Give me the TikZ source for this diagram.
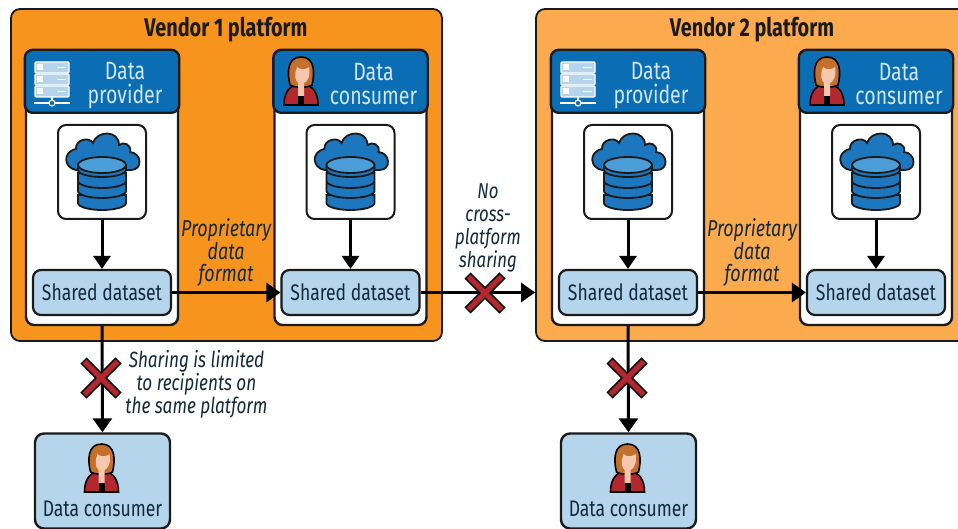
\documentclass[tikz,border=0pt]{standalone}
\usepackage{fontspec}
\setmainfont[FakeStretch=0.78]{Fira Sans}
\usetikzlibrary{arrows.meta}
\definecolor{orA}{HTML}{F7941D}
\definecolor{orB}{HTML}{FBAA4D}
\definecolor{hdr}{HTML}{0B6DB3}
\definecolor{lblue}{HTML}{B4D5EC}
\definecolor{ink}{HTML}{1A1A1A}
\definecolor{txt}{HTML}{14283C}
\definecolor{hdrtxt}{HTML}{CFE7F7}
\definecolor{redx}{HTML}{B3282F}
\definecolor{dbb}{HTML}{1C77BE}
\definecolor{dbl}{HTML}{4C9ED8}
\definecolor{hair}{HTML}{C46F2C}
\definecolor{skin}{HTML}{F4C7AE}
\tikzset{
  x=1pt,y=-1pt,
  platform/.style={draw=ink,line width=1.8pt,rounded corners=9pt,minimum height=332pt,inner sep=0pt},
  plattitle/.style={font=\fontsize{25.5}{28}\selectfont\bfseries,text=ink,inner sep=0pt},
  panelbox/.style={draw=ink,fill=white,line width=2.4pt,rounded corners=8pt,minimum width=152pt,minimum height=274pt,inner sep=0pt},
  headfill/.style={draw=ink,fill=hdr,line width=2.4pt},
  headtext/.style={font=\fontsize{25}{24.5}\selectfont,text=hdrtxt,align=center,inner sep=0pt},
  cloudbox/.style={draw=ink,fill=white,line width=2pt,rounded corners=8pt,minimum width=88pt,minimum height=94pt,inner sep=0pt},
  sharedbox/.style={draw=ink,fill=lblue,line width=2.2pt,rounded corners=8pt,minimum width=138pt,minimum height=45pt,inner sep=0pt,font=\fontsize{22.5}{24}\selectfont,text=txt},
  dcbox/.style={draw=ink,fill=lblue,line width=2.4pt,rounded corners=9pt,minimum width=135pt,minimum height=95pt,inner sep=0pt},
  dctext/.style={font=\fontsize{22.5}{24}\selectfont,text=txt,inner sep=0pt},
  note/.style={font=\fontsize{21.5}{23}\selectfont\itshape,text=txt,align=center,inner sep=0pt},
  notesame/.style={font=\fontsize{22}{23}\selectfont\itshape,text=txt,align=center,inner sep=0pt},
  notewide/.style={font=\fontsize{23}{22}\selectfont\itshape,text=txt,align=center,inner sep=0pt},
  conn/.style={draw=black,line width=3pt,-{Triangle[length=14pt,width=19pt]}},
  connsm/.style={draw=black,line width=3pt,-{Triangle[length=13pt,width=17pt]}},
  cloudicon/.pic={
    \path[draw=ink,line width=1.8pt,fill=dbb]
      (-26,-2) .. controls (-38,-4) and (-40,-20) .. (-26,-23)
      .. controls (-27,-32) and (-13,-36) .. (-9,-29)
      .. controls (-5,-42) and (17,-42) .. (17,-27)
      .. controls (22,-31) and (30,-27) .. (28,-20)
      .. controls (40,-19) and (41,-2) .. (29,-2) -- cycle;
    \foreach \yy in {31,19,9}{
      \path[draw=ink,line width=1.8pt,fill=dbb]
        (-24,\yy-8) -- (-24,\yy) arc[start angle=180,end angle=0,x radius=24,y radius=7] -- (24,\yy-8) -- cycle;
    }
    \path[draw=ink,line width=1.8pt,fill=dbb] (-24,-7) -- (-24,-2) arc[start angle=180,end angle=0,x radius=24,y radius=7] -- (24,-7) -- cycle;
    \path[draw=ink,line width=1.8pt,fill=dbl] (0,-7) ellipse[x radius=24,y radius=8];
  },
  servericon/.pic={
    \foreach \yy in {-21,-9,3}{
      \path[draw=white,line width=1.2pt,fill=lblue,rounded corners=1pt] (-17,\yy) rectangle (17,\yy+11);
      \path[fill=white] (-15,\yy+2.5) rectangle (-9,\yy+8.5);
      \path[draw=white,line width=1.2pt] (5,\yy+5.5) -- (14,\yy+5.5);
    }
    \path[draw=white,line width=1.6pt] (0,14) -- (0,20);
    \path[draw=white,line width=2.4pt] (-18,20) -- (18,20);
    \path[draw=white,line width=1.2pt,fill=hdr] (0,20) circle[radius=3];
  },
  personicon/.pic={
    \path[draw=black,line width=1.6pt,fill=redx]
      (-17,24) .. controls (-17,12) and (-12,6) .. (-6,4) -- (6,4) .. controls (12,6) and (17,12) .. (17,24) -- cycle;
    \path[fill=black] (-3,15) rectangle (3,24);
    \path[draw=black,line width=1.6pt,fill=hair]
      (0,-24) .. controls (-14,-24) and (-14,-8) .. (-11,4) .. controls (-6,7) and (6,7) .. (11,4)
      .. controls (14,-8) and (14,-24) .. (0,-24) -- cycle;
    \path[fill=skin] (-4,-14) .. controls (0,-10) and (6,-12) .. (8,-14) .. controls (10,-5) and (6,1) .. (3,2) -- (3,15) -- (-3,15) -- (-3,2) .. controls (-6,-1) and (-7,-6) .. (-4,-14) -- cycle;
  },
  xmark/.pic={
    \path[draw=black,line width=8.5pt,line cap=butt] (-17.5,-17.5) -- (17.5,17.5) (-17.5,17.5) -- (17.5,-17.5);
    \path[draw=redx,line width=5.4pt,line cap=butt] (-16.5,-16.5) -- (16.5,16.5) (-16.5,16.5) -- (16.5,-16.5);
  }
}
\newcommand{\vendorcol}[4]{% prefix, panel centre x, header text, header text y
  \node[panelbox] (#1panel) at (#2,188) {};
  \path[headfill,rounded corners=8pt] (#1panel.north west) -- (#1panel.north east) -- ([yshift=-63pt]#1panel.north east) -- ([yshift=-63pt]#1panel.north west) -- cycle;
  \node[headtext] (#1head) at (#2+23,#4) {#3};
  \node[cloudbox] (#1cloud) at (#2,172) {};
  \node[sharedbox] (#1shared) at (#2,292.5) {Shared dataset};
  \pic at (#1cloud.center) {cloudicon};
  \draw[connsm] (#1cloud.south) -- (#1shared.north);
}
\begin{document}
\begin{tikzpicture}
\useasboundingbox (0,0) rectangle (958,529);
\clip (0,0) rectangle (958,529);
\path[fill=white] (0,0) rectangle (958,529);
% platforms
\node[platform,fill=orA,minimum width=431pt] (plat1) at (226.5,175) {};
\node[platform,fill=orB,minimum width=440pt] (plat2) at (756,175) {};
\node[plattitle] (t1) at (226,30) {Vendor 1 platform};
\node[plattitle] (t2) at (752,30) {Vendor 2 platform};
% columns
\vendorcol{pa}{102}{Data\\provider}{85.5}
\vendorcol{ca}{350.5}{Data\\consumer}{84}
\vendorcol{pb}{628}{Data\\provider}{85.5}
\vendorcol{cb}{876}{Data\\consumer}{84}
\pic at (52,83) {servericon};
\pic at (578,83) {servericon};
\pic at (301,81) {personicon};
\pic at (827,81) {personicon};
% bottom consumers
\node[dcbox] (dca) at (102.5,481) {};
\node[dcbox] (dcb) at (628.5,481) {};
\node[dctext] (dcat) at (102.5,509) {Data consumer};
\node[dctext] (dcbt) at (628.5,509) {Data consumer};
\pic at (101.5,468) {personicon};
\pic at (627.5,468) {personicon};
% connectors
\draw[conn] (pashared.east) -- (cashared.west);
\draw[conn] (pbshared.east) -- (cbshared.west);
\draw[conn] (cashared.east) -- (plat2.west |- cashared.east);
\draw[conn] (papanel.south) -- (dca.north);
\draw[conn] (pbpanel.south) -- (dcb.north);
\pic at (485,293) {xmark};
\pic at (101,378) {xmark};
\pic at (627,378) {xmark};
% labels
\node[notewide] (n1) at (226,252.5) {Proprietary\\data\\format};
\node[notewide] (n2) at (752,252.5) {Proprietary\\data\\format};
\node[note] (n3) at (488,227.5) {No\\cross-\\platform\\sharing};
\node[notesame] (n4) at (196.5,384.5) {Sharing is limited\\to recipients on\\the same platform};
\end{tikzpicture}
\end{document}
